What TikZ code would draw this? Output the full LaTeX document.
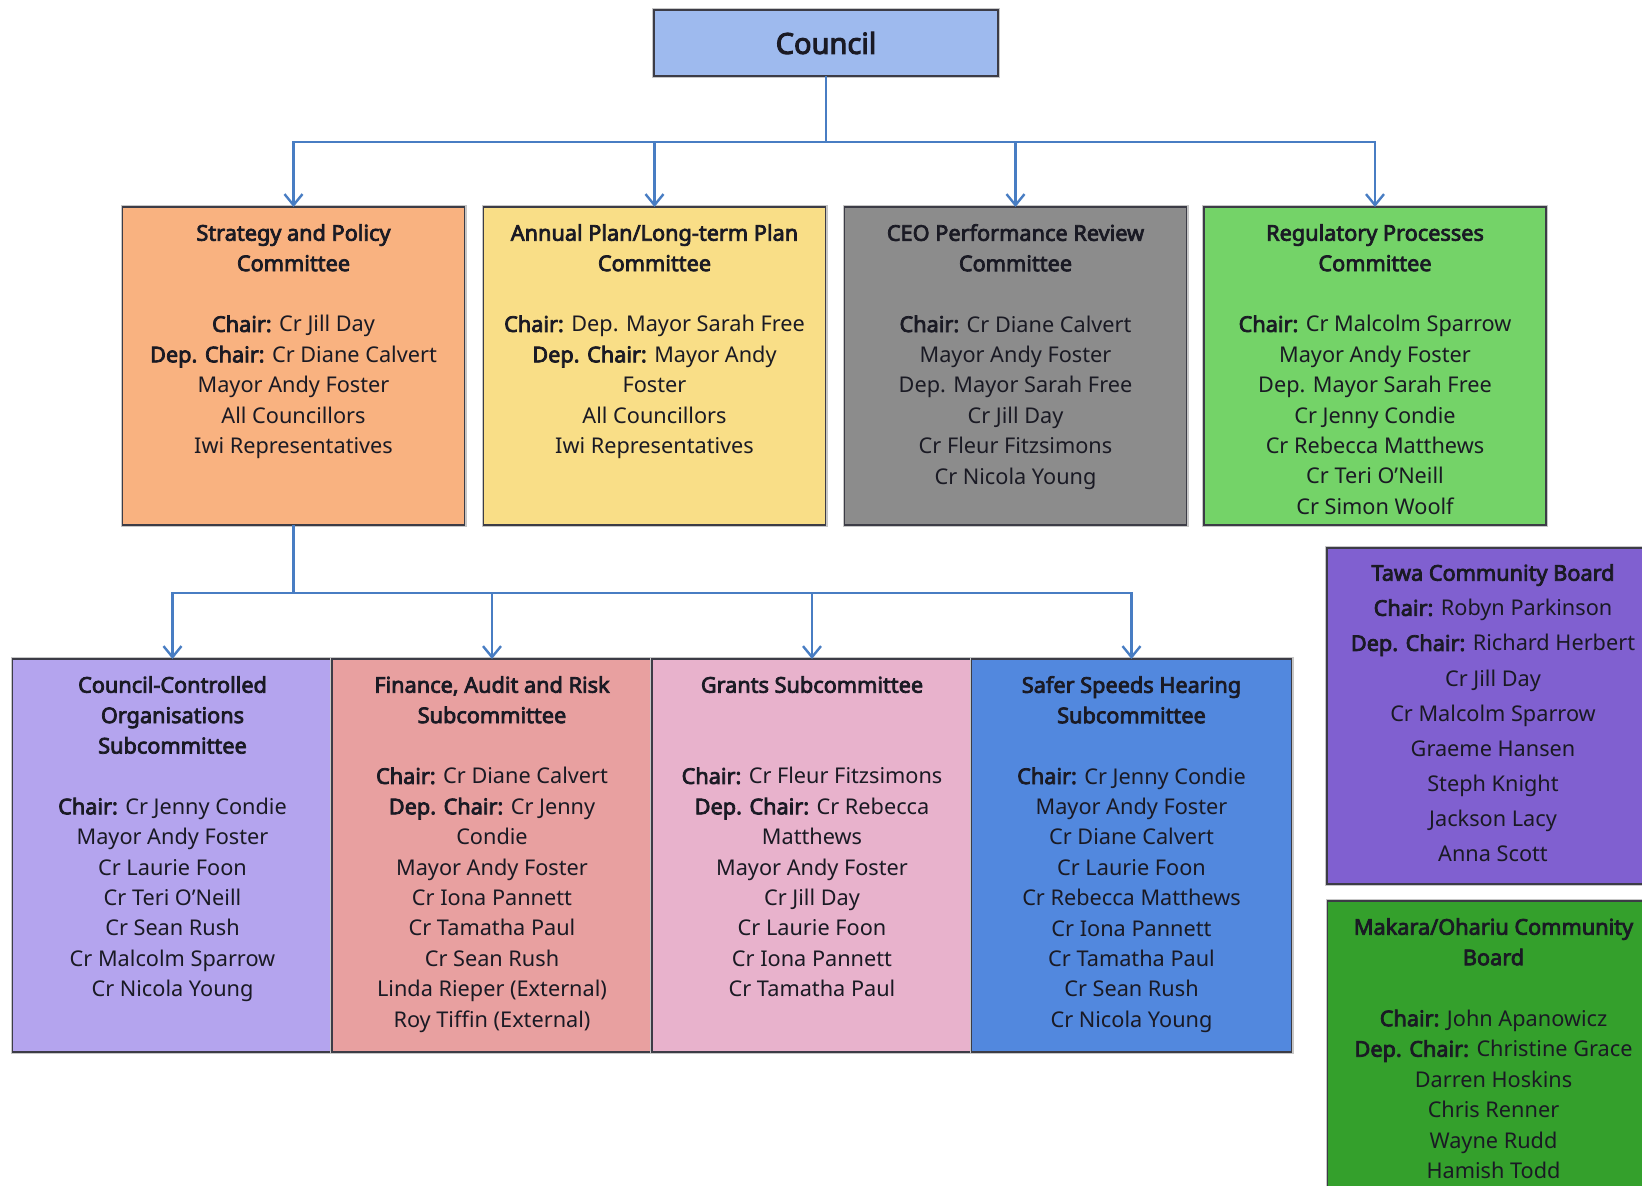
\documentclass[tikz,border=0pt]{standalone}
\usepackage{fontspec}
\setmainfont{Noto Sans}[BoldFont={Noto Sans}, BoldFeatures={FakeBold=3.4}]
\usetikzlibrary{arrows.meta}

% box fills
\definecolor{councilc}{RGB}{158,186,238}
\definecolor{stratc}{RGB}{249,178,128}
\definecolor{annualc}{RGB}{249,222,135}
\definecolor{ceoc}{RGB}{140,140,140}
\definecolor{regc}{RGB}{116,211,104}
\definecolor{ccoc}{RGB}{180,164,238}
\definecolor{finc}{RGB}{232,160,160}
\definecolor{grantsc}{RGB}{232,178,204}
\definecolor{saferc}{RGB}{82,136,222}
\definecolor{tawac}{RGB}{128,96,208}
\definecolor{makarac}{RGB}{52,160,44}
% lines and text
\definecolor{linec}{RGB}{72,125,195}
\definecolor{borderc}{RGB}{60,60,70}
\definecolor{textc}{RGB}{26,26,36}

% strut that fixes the height of the first text line
\newcommand{\firstln}{\rule{0pt}{16pt}}

\begin{document}
\begin{tikzpicture}[x=1pt,y=-1pt,
  box/.style={rectangle, draw=borderc, line width=1.6pt, inner sep=0pt, outer sep=0pt,
              preaction={draw=black!22, line width=4pt}},
  topbox/.style={box, minimum width=342pt, minimum height=318pt},
  subbox/.style={box, minimum width=320pt, minimum height=393pt},
  sidebox/.style={box, minimum width=332pt},
  txt/.style={anchor=north, inner sep=0pt, align=center, text=textc,
              font=\fontsize{21.7}{30.4}\selectfont},
  conn/.style={draw=linec, line width=2.6pt,
               -{Straight Barb[length=11pt,width=18pt,line width=2.4pt]}},
  trunk/.style={draw=linec, line width=2.6pt}
]
\useasboundingbox (0,0) rectangle (1642,1186);
\clip (0,0) rectangle (1642,1186);

% ---- Council ----
\node[box, fill=councilc, minimum width=344pt, minimum height=66pt] (council) at (826,43) {};
\node[inner sep=0pt, text=textc, font=\fontsize{29}{32}\selectfont\bfseries] (council-t) at (council.center) {Council};

% ---- Committees ----
\node[topbox, fill=stratc]  (strat)  at (293.5,366) {};
\node[topbox, fill=annualc] (annual) at (654.5,366) {};
\node[topbox, fill=ceoc]    (ceo)    at (1015.5,366) {};
\node[topbox, fill=regc]    (reg)    at (1375,366) {};

\node[txt] (strat-t) at ([yshift=-17pt]strat.north) {\firstln\textbf{Strategy and Policy}\\ \textbf{Committee}\\[30.4pt]
  \textbf{Chair:} Cr Jill Day\\ \textbf{Dep. Chair:} Cr Diane Calvert\\ Mayor Andy Foster\\ All Councillors\\ Iwi Representatives};
\node[txt] (annual-t) at ([yshift=-17pt]annual.north) {\firstln\textbf{Annual Plan/Long-term Plan}\\ \textbf{Committee}\\[30.4pt]
  \textbf{Chair:} Dep. Mayor Sarah Free\\ \textbf{Dep. Chair:} Mayor Andy\\ Foster\\ All Councillors\\ Iwi Representatives};
\node[txt] (ceo-t) at ([yshift=-17pt]ceo.north) {\firstln\textbf{CEO Performance Review}\\ \textbf{Committee}\\[30.4pt]
  \textbf{Chair:} Cr Diane Calvert\\ Mayor Andy Foster\\ Dep. Mayor Sarah Free\\ Cr Jill Day\\ Cr Fleur Fitzsimons\\ Cr Nicola Young};
\node[txt] (reg-t) at ([yshift=-17pt]reg.north) {\firstln\textbf{Regulatory Processes}\\ \textbf{Committee}\\[30.4pt]
  \textbf{Chair:} Cr Malcolm Sparrow\\ Mayor Andy Foster\\ Dep. Mayor Sarah Free\\ Cr Jenny Condie\\ Cr Rebecca Matthews\\ Cr Teri O’Neill\\ Cr Simon Woolf};

% ---- Subcommittees ----
\node[subbox, fill=ccoc]    (cco)    at (172.5,855.5) {};
\node[subbox, fill=finc]    (fin)    at (492,855.5) {};
\node[subbox, fill=grantsc] (grants) at (812,855.5) {};
\node[subbox, fill=saferc]  (safer)  at (1131.5,855.5) {};

\node[txt] (cco-t) at ([yshift=-17pt]cco.north) {\firstln\textbf{Council-Controlled}\\ \textbf{Organisations}\\ \textbf{Subcommittee}\\[30.4pt]
  \textbf{Chair:} Cr Jenny Condie\\ Mayor Andy Foster\\ Cr Laurie Foon\\ Cr Teri O’Neill\\ Cr Sean Rush\\ Cr Malcolm Sparrow\\ Cr Nicola Young};
\node[txt] (fin-t) at ([yshift=-17pt]fin.north) {\firstln\textbf{Finance, Audit and Risk}\\ \textbf{Subcommittee}\\[30.4pt]
  \textbf{Chair:} Cr Diane Calvert\\ \textbf{Dep. Chair:} Cr Jenny\\ Condie\\ Mayor Andy Foster\\ Cr Iona Pannett\\ Cr Tamatha Paul\\ Cr Sean Rush\\ Linda Rieper (External)\\ Roy Tiffin (External)};
\node[txt] (grants-t) at ([yshift=-17pt]grants.north) {\firstln\textbf{Grants Subcommittee}\\[60.8pt]
  \textbf{Chair:} Cr Fleur Fitzsimons\\ \textbf{Dep. Chair:} Cr Rebecca\\ Matthews\\ Mayor Andy Foster\\ Cr Jill Day\\ Cr Laurie Foon\\ Cr Iona Pannett\\ Cr Tamatha Paul};
\node[txt] (safer-t) at ([yshift=-17pt]safer.north) {\firstln\textbf{Safer Speeds Hearing}\\ \textbf{Subcommittee}\\[30.4pt]
  \textbf{Chair:} Cr Jenny Condie\\ Mayor Andy Foster\\ Cr Diane Calvert\\ Cr Laurie Foon\\ Cr Rebecca Matthews\\ Cr Iona Pannett\\ Cr Tamatha Paul\\ Cr Sean Rush\\ Cr Nicola Young};

% ---- Community boards ----
\node[sidebox, fill=tawac, minimum height=336pt] (tawa) at (1493,716) {};
\node[sidebox, fill=makarac, minimum height=320pt] (makara) at (1493.5,1061) {};

\node[txt, font=\fontsize{21.7}{35.1}\selectfont] (tawa-t) at ([yshift=-16pt]tawa.north) {\firstln\textbf{Tawa Community Board}\\
  \textbf{Chair:} Robyn Parkinson\\ \textbf{Dep. Chair:} Richard Herbert\\ Cr Jill Day\\ Cr Malcolm Sparrow\\ Graeme Hansen\\ Steph Knight\\ Jackson Lacy\\ Anna Scott};
\node[txt, font=\fontsize{21.7}{30.5}\selectfont] (makara-t) at ([yshift=-17pt]makara.north) {\firstln\textbf{Makara/Ohariu Community}\\ \textbf{Board}\\[30.5pt]
  \textbf{Chair:} John Apanowicz\\ \textbf{Dep. Chair:} Christine Grace\\ Darren Hoskins\\ Chris Renner\\ Wayne Rudd\\ Hamish Todd};

% ---- Connectors ----
\coordinate (bus1) at (826,142);
\coordinate (bus2) at (293.5,593);

\draw[trunk] (council.south) -- (council.south |- bus1);
\foreach \t in {strat,annual,ceo,reg}
  \draw[conn] (council.south |- bus1) -| (\t.north);

\draw[trunk] (strat.south) -- (strat.south |- bus2);
\foreach \t in {cco,fin,grants,safer}
  \draw[conn] (strat.south |- bus2) -| (\t.north);
\end{tikzpicture}
\end{document}
